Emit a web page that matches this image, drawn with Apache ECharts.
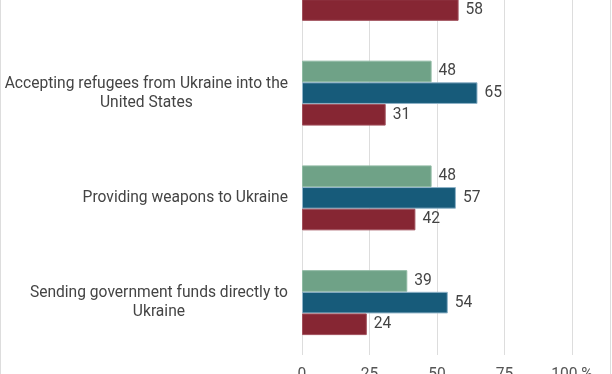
<!DOCTYPE html>
<html>
<head>
<meta charset="utf-8">
<script src="https://cdn.jsdelivr.net/npm/echarts@6/dist/echarts.min.js"></script>
<style>
html,body{margin:0;padding:0;background:#fff;overflow:hidden;width:612px;height:374px;}
#chart{position:absolute;left:0;top:-64px;width:612px;height:438px;}
</style>
</head>
<body>
<div id="chart"></div>
<script>
var categories = [
  "Providing humanitarian aid to Ukraine",
  "Accepting refugees from Ukraine into the United States",
  "Providing weapons to Ukraine",
  "Sending government funds directly to Ukraine"
];
var seriesNames = ["Total", "Dem/Lean Dem", "Rep/Lean Rep"];
var totalValues = [63, 48, 48, 39];
var demValues = [70, 65, 57, 54];
var repValues = [58, 31, 42, 24];
var xTicks = [0, 25, 50, 75, 100];
var colors = ["#6fa287", "#175b7a", "#862633"];

function wrap(text, maxChars) {
  var words = text.split(" "), lines = [], cur = "";
  words.forEach(function (w) {
    var t = cur ? cur + " " + w : w;
    if (t.length > maxChars && cur) { lines.push(cur); cur = w; } else { cur = t; }
  });
  if (cur) lines.push(cur);
  return lines;
}

var FS = 15.6;
var chart = echarts.init(document.getElementById('chart'), null, {renderer: 'canvas'});
var labelStyle = {
  show: true, position: 'right', distance: 7,
  fontFamily: 'Roboto', fontSize: FS, color: '#444'
};
function mk(name, data, color, border) {
  return {
    name: name, type: 'bar', data: data, barGap: '0%', barCategoryGap: '38%',
    itemStyle: {color: color, borderColor: border, borderWidth: 1},
    label: labelStyle, silent: true, animation: false
  };
}
chart.setOption({
  animation: false,
  graphic: [{
    type: 'rect', silent: true,
    shape: {x: 0.5, y: -10, width: 610, height: 470},
    style: {fill: 'none', stroke: '#dddddd', lineWidth: 1}
  }],
  grid: {left: 302, right: 40, top: 0, bottom: 19, containLabel: false, outerBoundsMode: 'none'},
  xAxis: {
    type: 'value', min: xTicks[0], max: xTicks[xTicks.length - 1], interval: 25,
    axisLine: {show: false}, axisTick: {show: false},
    splitLine: {lineStyle: {color: '#dddddd', width: 1}},
    axisLabel: {
      fontFamily: 'Roboto', fontSize: FS, color: '#555', margin: 12,
      formatter: function (v) { return v === 100 ? '100 %' : String(v); }
    }
  },
  yAxis: {
    type: 'category', data: categories, inverse: true,
    axisLine: {show: false}, axisTick: {show: false},
    axisLabel: {
      margin: 14, fontFamily: 'Roboto', fontSize: FS, color: '#444', lineHeight: 19,
      formatter: function (v) {
        return wrap(v, 40).map(function (l) { return '{c|' + l + '}'; }).join('\n');
      },
      rich: {c: {align: 'center', fontFamily: 'Roboto', fontSize: FS, color: '#444', lineHeight: 19}}
    }
  },
  series: [
    mk(seriesNames[0], totalValues, colors[0], '#8fbaa3'),
    mk(seriesNames[1], demValues, colors[1], '#8fb3c8'),
    mk(seriesNames[2], repValues, colors[2], '#a0505c')
  ]
});
</script>
</body>
</html>
